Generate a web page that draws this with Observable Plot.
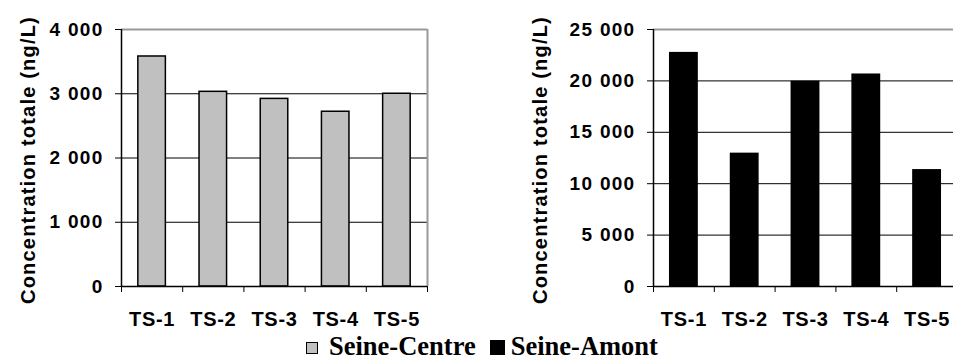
<!DOCTYPE html>
<html>
<head>
<meta charset="utf-8">
<script src="https://cdn.jsdelivr.net/npm/d3@7"></script>
<script src="https://cdn.jsdelivr.net/npm/@observablehq/plot@0.6"></script>
<style>
  html, body { margin: 0; padding: 0; background: #fff; overflow: hidden; width: 953px; height: 361px; }
  #root { position: relative; width: 953px; height: 361px; overflow: hidden; }
  .chart { position: absolute; top: 0; }
  .chart svg { overflow: visible; max-width: none !important; }
  .chart svg text { font-family: "Liberation Sans", Arial, sans-serif; font-weight: bold; fill: #000; }
  g[aria-label="y-axis tick label"] text { letter-spacing: 1.3px; font-size: 19px !important; }
  g[aria-label="x-axis tick label"] text { letter-spacing: 0.7px; font-size: 20px !important; }
  g.ytitle text { letter-spacing: 1.2px; font-size: 20px !important; }
  #legend { position: absolute; left: 306px; top: 333px; display: flex; align-items: flex-start;
            font-family: "Liberation Serif", "Times New Roman", serif; font-weight: bold; font-size: 26.5px;
            line-height: 27px; white-space: nowrap; color: #000; }
  #legend .sw { display: block; box-sizing: border-box; border: 1px solid #000; }
</style>
</head>
<body>
<div id="root">
  <div id="left" class="chart" style="left:0px;width:440px"></div>
  <div id="right" class="chart" style="left:480px;width:480px"></div>
  <div id="legend"></div>
</div>
<script>
// ---- data ----
const sites = ["TS-1", "TS-2", "TS-3", "TS-4", "TS-5"];
const seineCentre = [3580, 3030, 2920, 2720, 3000];
const seineAmont = [22700, 12900, 19900, 20600, 11300];
const seriesNames = ["Seine-Centre", "Seine-Amont"];
const seriesColors = ["#c0c0c0", "#000000"];
const ticksCentre = [0, 1000, 2000, 3000, 4000];
const ticksAmont = [0, 5000, 10000, 15000, 20000, 25000];
const yLabel = "Concentration totale (ng/L)";

const fmt = d3.formatLocale({thousands: " ", grouping: [3], decimal: ","}).format(",");

function makeChart({values, ticks, fill, width, marginLeft, marginRight, titleDx}) {
  const data = sites.map((s, i) => ({site: s, i, value: values[i]}));
  const max = ticks[ticks.length - 1];
  const n = sites.length;
  return Plot.plot({
    width,
    height: 335,
    marginLeft,
    marginRight,
    marginTop: 29,
    marginBottom: 49,
    x: {domain: [0, n], axis: null},
    y: {domain: [0, max], axis: null},
    marks: [
      Plot.gridY(ticks.slice(1, -1), {stroke: "#000", strokeOpacity: 1, strokeWidth: 1}),
      Plot.rectY(data, {x1: d => d.i + 0.275, x2: d => d.i + 0.725, y1: 0, y2: "value",
                        fill, stroke: "#000", strokeWidth: 1.5}),
      Plot.ruleY([max], {stroke: "#9a9a9a", strokeWidth: 2}),
      Plot.ruleX([n], {stroke: "#9a9a9a", strokeWidth: 2}),
      Plot.ruleX([0], {stroke: "#000", strokeWidth: 1.5}),
      Plot.ruleY([0], {stroke: "#000", strokeWidth: 1.5}),
      Plot.axisY({ticks, tickSize: 6, tickPadding: 12, tickFormat: fmt, fontSize: 19, stroke: "#000", label: null}),
      Plot.axisX({ticks: d3.range(n + 1), tickSize: 6, tickFormat: () => "", stroke: "#000", label: null}),
      Plot.axisX({ticks: sites.map((s, i) => i + 0.5), tickSize: 0, tickPadding: 25,
                  tickFormat: v => sites[Math.floor(v)], fontSize: 20, label: null}),
      Plot.text([yLabel], {frameAnchor: "left", rotate: -90, dx: titleDx, dy: 2, fontSize: 20,
                           textAnchor: "middle", lineAnchor: "middle", className: "ytitle"})
    ]
  });
}

document.getElementById("left").append(makeChart({
  values: seineCentre, ticks: ticksCentre, fill: seriesColors[0],
  width: 440, marginLeft: 121, marginRight: 13, titleDx: -92.5
}));
document.getElementById("right").append(makeChart({
  values: seineAmont, ticks: ticksAmont, fill: seriesColors[1],
  width: 480, marginLeft: 173, marginRight: 3, titleDx: -113
}));

// ---- legend ----
const legend = document.getElementById("legend");
const swatchSpec = [
  {size: 12, top: 9, gapAfter: 11},
  {size: 15, top: 7, gapAfter: 6}
];
seriesNames.forEach((name, k) => {
  const sw = document.createElement("span");
  sw.className = "sw";
  sw.style.width = swatchSpec[k].size + "px";
  sw.style.height = swatchSpec[k].size + "px";
  sw.style.marginTop = swatchSpec[k].top + "px";
  sw.style.marginRight = swatchSpec[k].gapAfter + "px";
  sw.style.background = seriesColors[k];
  if (k > 0) sw.style.marginLeft = "14px";
  const tx = document.createElement("span");
  tx.textContent = name;
  legend.append(sw, tx);
});
</script>
</body>
</html>
